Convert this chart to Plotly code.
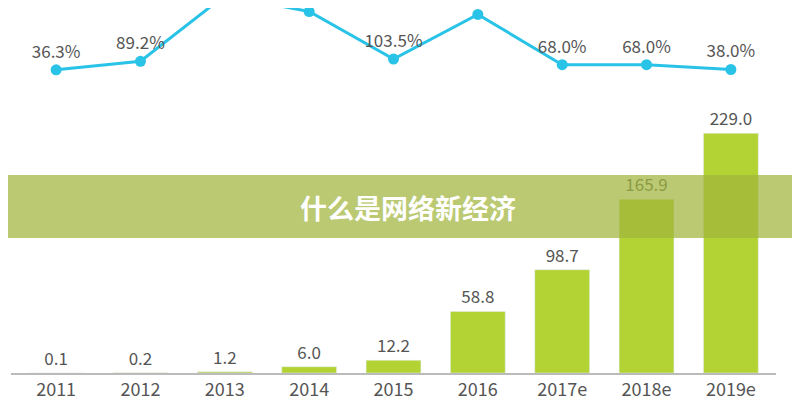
import plotly.graph_objects as go

years = ['2011', '2012', '2013', '2014', '2015', '2016', '2017e', '2018e', '2019e']
scale = [0.1, 0.2, 1.2, 6.0, 12.2, 58.8, 98.7, 165.9, 229.0]
growth = [36.3, 89.2, 500.0, 400.0, 103.5, 382.0, 68.0, 68.0, 38.0]
growth_text = ['36.3%', '89.2%', '500.0%', '400.0%', '103.5%', '382.0%', '68.0%', '68.0%', '38.0%']

fig = go.Figure()
fig.add_trace(go.Bar(
    x=years, y=scale, text=[f'{v:.1f}' for v in scale], textposition='outside',
    marker_color='#b3d335', width=0.65, cliponaxis=False,
    textfont=dict(size=17, color='#555555'),
))
fig.add_trace(go.Scatter(
    x=years, y=growth, yaxis='y2', mode='lines+markers+text',
    text=growth_text, textposition='top center',
    line=dict(color='#2ac3e8', width=3), marker=dict(size=11, color='#2ac3e8'),
    textfont=dict(size=17, color='#555555'),
))

fig.update_layout(
    width=800, height=400, showlegend=False,
    paper_bgcolor='white', plot_bgcolor='white',
    margin=dict(l=3, r=32, t=0, b=35),
    font=dict(family='Noto Sans CJK SC, Open Sans', color='#555555'),
    xaxis=dict(showline=True, linecolor='#bbbbbb', linewidth=1.5,
               tickfont=dict(size=18), ticks=''),
    yaxis=dict(range=[0, 348.7], visible=False),
    yaxis2=dict(range=[-1857, 422], overlaying='y', visible=False),
    shapes=[dict(type='rect', xref='paper', yref='paper', x0=-0.02, x1=1.05,
                 y0=(365 - 230) / 365, y1=(365 - 167) / 365,
                 fillcolor='rgba(160,180,60,0.72)', line_width=0, layer='above')],
    annotations=[dict(text='<b>什么是网络新经济</b>', xref='paper', yref='paper',
                      x=(400 - 3) / 765, y=(365 - 199) / 365, showarrow=False,
                      font=dict(size=27, color='white'))],
)

fig.write_html('out.html')
